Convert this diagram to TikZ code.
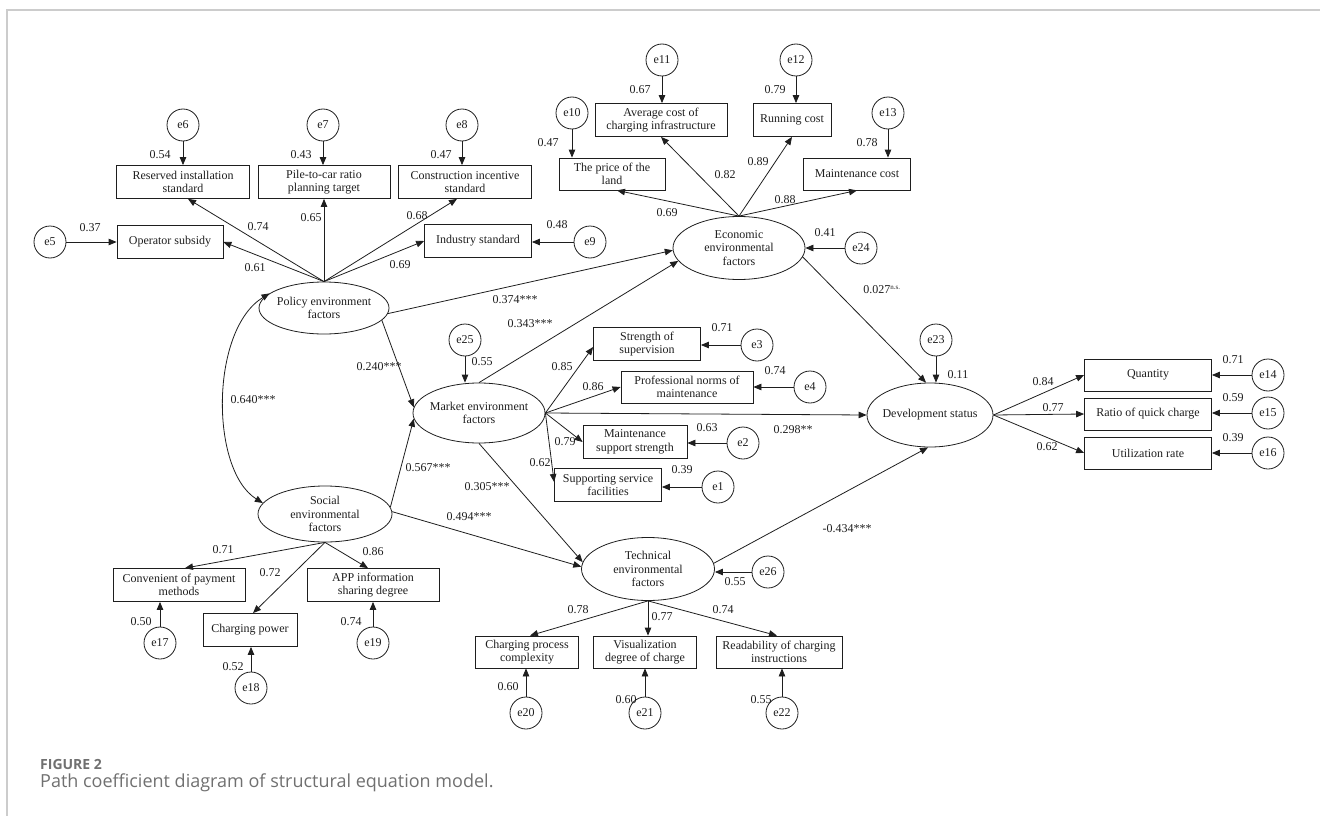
\documentclass[tikz,border=0pt]{standalone}
\usepackage{fontspec}
\setmainfont{Liberation Serif}
\newfontfamily\capfont{Open Sans}
\usetikzlibrary{arrows.meta,shapes.geometric,calc}
\definecolor{framegray}{HTML}{CCCCCC}
\definecolor{capgray}{HTML}{707070}
\definecolor{ink}{HTML}{1E1E1E}
\begin{document}
\begin{tikzpicture}[x=1pt,y=-1pt,
  every node/.style={font=\fontsize{12}{13.5}\selectfont, text=ink},
  obs/.style={draw=ink, rectangle, align=center, minimum height=33pt, inner sep=1pt, line width=0.8pt},
  lat/.style={draw=ink, ellipse, align=center, inner xsep=-12pt, inner ysep=-3pt, line width=0.8pt},
  err/.style={draw=ink, circle, minimum size=32pt, inner sep=0pt, line width=0.8pt},
  lab/.style={inner sep=0pt},
  arr/.style={draw=ink, line width=0.8pt, -{Triangle[length=8pt,width=6.5pt]}},
  darr/.style={draw=ink, line width=0.8pt, {Triangle[length=8pt,width=6.5pt]}-{Triangle[length=8pt,width=6.5pt]}},
]
\useasboundingbox (0,0) rectangle (1320,816);
\draw[framegray, line width=2pt] (7,816) -- (7,10) -- (1320,10);

% ---------- latent variables
\node[lat, minimum width=130pt, minimum height=52pt] (pol) at (324,308) {Policy environment\\factors};
\node[lat, minimum width=132pt, minimum height=63pt] (eco) at (739,248) {Economic\\environmental\\factors};
\node[lat, minimum width=132pt, minimum height=60pt] (mkt) at (479,413) {Market environment\\factors};
\node[lat, minimum width=134pt, minimum height=56pt] (soc) at (325,514) {Social\\environmental\\factors};
\node[lat, minimum width=126pt, minimum height=64pt] (dev) at (930,415) {Development status};
\node[lat, minimum width=133pt, minimum height=63pt] (tec) at (648,569) {Technical\\environmental\\factors};

% ---------- observed variables
\node[obs, minimum width=133pt] (bRes) at (183,182) {Reserved installation\\standard};
\node[obs, minimum width=132pt] (bPile) at (324,182) {Pile-to-car ratio\\planning target};
\node[obs, minimum width=133pt] (bCons) at (465,182) {Construction incentive\\standard};
\node[obs, minimum width=106pt] (bOper) at (170,242) {Operator subsidy};
\node[obs, minimum width=107pt] (bInd) at (478,241) {Industry standard};
\node[obs, minimum width=132pt] (bAvg) at (661,120) {Average cost of\\charging infrastructure};
\node[obs, minimum width=78pt] (bRun) at (792,120) {Running cost};
\node[obs, minimum width=106pt, minimum height=32pt] (bLand) at (612,174) {The price of the\\land};
\node[obs, minimum width=107pt, minimum height=32pt] (bMain) at (857,174) {Maintenance cost};
\node[obs, minimum width=107pt] (bSup) at (647,344) {Strength of\\supervision};
\node[obs, minimum width=132pt, minimum height=32pt] (bProf) at (687,387) {Professional norms of\\maintenance};
\node[obs, minimum width=104pt] (bMsup) at (635,442) {Maintenance\\support strength};
\node[obs, minimum width=107pt] (bServ) at (608,485) {Supporting service\\facilities};
\node[obs, minimum width=127pt, minimum height=32pt] (bQty) at (1148,375) {Quantity};
\node[obs, minimum width=127pt, minimum height=32pt] (bQuick) at (1148,414) {Ratio of quick charge};
\node[obs, minimum width=127pt, minimum height=32pt] (bUtil) at (1148,453) {Utilization rate};
\node[obs, minimum width=132pt] (bPay) at (179,585) {Convenient of payment\\methods};
\node[obs, minimum width=132pt] (bApp) at (373,585) {APP information\\sharing degree};
\node[obs, minimum width=94pt] (bPow) at (250,630) {Charging power};
\node[obs, minimum width=103pt, minimum height=32pt] (bCpx) at (527,652) {Charging process\\complexity};
\node[obs, minimum width=103pt, minimum height=32pt] (bVis) at (645,652) {Visualization\\degree of charge};
\node[obs, minimum width=126pt, minimum height=32pt] (bRead) at (779,652) {Readability of charging\\instructions};

% ---------- error terms
\node[err] (e6) at (183,125) {e6};
\node[err] (e7) at (323,125) {e7};
\node[err] (e8) at (462,125) {e8};
\node[err] (e5) at (50,242) {e5};
\node[err] (e9) at (590,242) {e9};
\node[err] (e10) at (572,113) {e10};
\node[err] (e11) at (662,60) {e11};
\node[err] (e12) at (796,60) {e12};
\node[err] (e13) at (888,113) {e13};
\node[err] (e24) at (861,248) {e24};
\node[err] (e25) at (465,340) {e25};
\node[err] (e23) at (936,340) {e23};
\node[err] (e3) at (757,345) {e3};
\node[err] (e4) at (810,387) {e4};
\node[err] (e2) at (743,443) {e2};
\node[err] (e1) at (718,487) {e1};
\node[err] (e14) at (1268,375) {e14};
\node[err] (e15) at (1268,413) {e15};
\node[err] (e16) at (1268,453) {e16};
\node[err] (e26) at (768,572) {e26};
\node[err] (e17) at (160,643) {e17};
\node[err] (e18) at (251,688) {e18};
\node[err] (e19) at (373,643) {e19};
\node[err] (e20) at (526,713) {e20};
\node[err] (e21) at (645,713) {e21};
\node[err] (e22) at (782,713) {e22};

% ---------- error arrows
\draw[arr] (e6) -- (e6 |- bRes.north);
\draw[arr] (e7) -- (e7 |- bPile.north);
\draw[arr] (e8) -- (e8 |- bCons.north);
\draw[arr] (e5) -- (e5 -| bOper.west);
\draw[arr] (e9) -- (e9 -| bInd.east);
\draw[arr] (e10) -- (e10 |- bLand.north);
\draw[arr] (e11) -- (e11 |- bAvg.north);
\draw[arr] (e12) -- (e12 |- bRun.north);
\draw[arr] (e13) -- (e13 |- bMain.north);
\draw[arr] (e24) -- (eco.east);
\draw[arr] (e25) -- (e25 |- mkt.north);
\draw[arr] (e23) -- (e23 |- dev.north);
\draw[arr] (e3) -- (e3 -| bSup.east);
\draw[arr] (e4) -- (e4 -| bProf.east);
\draw[arr] (e2) -- (e2 -| bMsup.east);
\draw[arr] (e1) -- (e1 -| bServ.east);
\draw[arr] (e14) -- (e14 -| bQty.east);
\draw[arr] (e15) -- (e15 -| bQuick.east);
\draw[arr] (e16) -- (e16 -| bUtil.east);
\draw[arr] (e26) -- (e26 -| tec.east);
\draw[arr] (e17) -- (e17 |- bPay.south);
\draw[arr] (e18) -- (e18 |- bPow.south);
\draw[arr] (e19) -- (e19 |- bApp.south);
\draw[arr] (e20) -- (e20 |- bCpx.south);
\draw[arr] (e21) -- (e21 |- bVis.south);
\draw[arr] (e22) -- (e22 |- bRead.south);

% ---------- loadings
\draw[arr] (pol.north) -- ([xshift=5pt]bRes.south);
\draw[arr] (pol.north) -- (bPile.south);
\draw[arr] (pol.north) -- ([xshift=-8pt]bCons.south);
\draw[arr] (pol.north) -- (bOper.east);
\draw[arr] (pol.north) -- (bInd.west);
\draw[arr] (eco.north) -- ([xshift=5pt]bLand.south);
\draw[arr] (eco.north) -- (bAvg.south);
\draw[arr] (eco.north) -- (bRun.south);
\draw[arr] (eco.north) -- (bMain.south);
\draw[arr] (mkt.east) -- ([yshift=-3pt]bSup.west);
\draw[arr] (mkt.east) -- (bProf.west);
\draw[arr] (mkt.east) -- (bMsup.west);
\draw[arr] (mkt.east) -- ([yshift=3pt]bServ.west);
\draw[arr] (dev.east) -- (bQty.west);
\draw[arr] (dev.east) -- (bQuick.west);
\draw[arr] (dev.east) -- (bUtil.west);
\draw[arr] (soc.south) -- ([xshift=6pt]bPay.north);
\draw[arr] (soc.south) -- ([xshift=3pt]bPow.north);
\draw[arr] (soc.south) -- ([xshift=-5pt]bApp.north);
\draw[arr] (tec.south) -- ([xshift=3pt]bCpx.north);
\draw[arr] (tec.south) -- (tec.south |- bVis.north);
\draw[arr] (tec.south) -- ([xshift=-2pt]bRead.north);

% ---------- structural paths
\draw[arr] (pol.-5) -- (eco.182);
\draw[arr] (mkt.north) -- (eco.192);
\draw[arr] (pol.-12) -- (mkt.175);
\draw[arr] (soc.6) -- (mkt.185);
\draw[arr] (soc.2) -- (tec.178);
\draw[arr] (mkt.south) -- (tec.174);
\draw[arr] (mkt.east) -- (dev.west);
\draw[arr] (eco.-8) -- ([xshift=-4pt]dev.north);
\draw[arr] (tec.5) -- ([xshift=-2pt]dev.south);
\draw[darr] (pol.165) .. controls (210,330) and (210,470) .. (soc.170);

% ---------- labels
\node[lab] (l1) at (160,155) {0.54};
\node[lab] (l2) at (301,155) {0.43};
\node[lab] (l3) at (441,155) {0.47};
\node[lab] (l4) at (90,228) {0.37};
\node[lab] (l5) at (258,227) {0.74};
\node[lab] (l6) at (311,218) {0.65};
\node[lab] (l7) at (417,216) {0.68};
\node[lab] (l8) at (255,268) {0.61};
\node[lab] (l9) at (400,265) {0.69};
\node[lab] (l10) at (557,225) {0.48};
\node[lab] (l11) at (640,90) {0.67};
\node[lab] (l12) at (775,90) {0.79};
\node[lab] (l13) at (548,143) {0.47};
\node[lab] (l14) at (867,143) {0.78};
\node[lab] (l15) at (667,213) {0.69};
\node[lab] (l16) at (725,175) {0.82};
\node[lab] (l17) at (758,162) {0.89};
\node[lab] (l18) at (785,200) {0.88};
\node[lab] (l19) at (825,233) {0.41};
\node[lab] (l20) at (515,300) {0.374***};
\node[lab] (l21) at (530,324) {0.343***};
\node[lab] (l22) at (379,367) {0.240***};
\node[lab] (l23) at (482,362) {0.55};
\node[lab] (l24) at (253,400) {0.640***};
\node[lab] (l25) at (428,468) {0.567***};
\node[lab] (l26) at (562,367) {0.85};
\node[lab] (l27) at (593,387) {0.86};
\node[lab] (l28) at (565,442) {0.79};
\node[lab] (l29) at (540,463) {0.62};
\node[lab] (l30) at (722,328) {0.71};
\node[lab] (l31) at (775,371) {0.74};
\node[lab] (l32) at (707,428) {0.63};
\node[lab] (l33) at (682,470) {0.39};
\node[lab] (l34) at (793,430) {0.298**};
\node[lab] (l35) at (882,290) {0.027\textsuperscript{\fontsize{7}{7}\selectfont n.s.}};
\node[lab] (l36) at (958,375) {0.11};
\node[lab] (l37) at (1043,382) {0.84};
\node[lab] (l38) at (1053,408) {0.77};
\node[lab] (l39) at (1047,447) {0.62};
\node[lab] (l40) at (1233,360) {0.71};
\node[lab] (l41) at (1233,398) {0.59};
\node[lab] (l42) at (1233,438) {0.39};
\node[lab] (l43) at (469,517) {0.494***};
\node[lab] (l44) at (487,487) {0.305***};
\node[lab] (l45) at (847,529) {-0.434***};
\node[lab] (l46) at (735,582) {0.55};
\node[lab] (l47) at (223,550) {0.71};
\node[lab] (l48) at (270,573) {0.72};
\node[lab] (l49) at (373,552) {0.86};
\node[lab] (l50) at (141,622) {0.50};
\node[lab] (l51) at (233,667) {0.52};
\node[lab] (l52) at (351,622) {0.74};
\node[lab] (l53) at (578,610) {0.78};
\node[lab] (l54) at (662,617) {0.77};
\node[lab] (l55) at (723,610) {0.74};
\node[lab] (l56) at (508,687) {0.60};
\node[lab] (l57) at (626,700) {0.60};
\node[lab] (l58) at (761,700) {0.55};

% ---------- caption
\node[anchor=base west, inner sep=0pt, text=capgray, font=\capfont\bfseries\fontsize{14}{16}\selectfont] (figlab) at (40,769) {FIGURE 2};
\node[anchor=base west, inner sep=0pt, text=capgray, font=\capfont\fontsize{18}{20}\selectfont] (figcap) at (40,787) {Path coefficient diagram of structural equation model.};
\end{tikzpicture}
\end{document}
